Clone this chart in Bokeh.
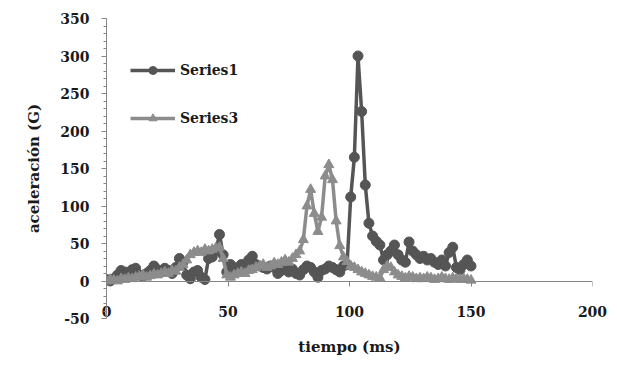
from bokeh.plotting import figure
from bokeh.models import Range1d, SingleIntervalTicker, FixedTicker, Legend, LegendItem, LinearAxis
from bokeh.embed import file_html
from bokeh.resources import INLINE

# time (ms)
t_ms = [0, 1.5, 3, 4.5, 6, 7.5, 9, 10.5, 12, 13.5,
        15, 16.5, 18, 19.5, 21, 22.5, 24, 25.5, 27, 28.5,
        30, 31.5, 33, 34.5, 36, 37.5, 39, 40.5, 42, 43.5,
        45, 46.5, 48, 49.5, 51, 52.5, 54, 55.5, 57, 58.5,
        60, 61.5, 63, 64.5, 66, 67.5, 69, 70.5, 72, 73.5,
        75, 76.5, 78, 79.5, 81, 82.5, 84, 85.5, 87, 88.5,
        90, 91.5, 93, 94.5, 96, 97.5, 99, 100.5, 102, 103.5,
        105, 106.5, 108, 109.5, 111, 112.5, 114, 115.5, 117, 118.5,
        120, 121.5, 123, 124.5, 126, 127.5, 129, 130.5, 132, 133.5,
        135, 136.5, 138, 139.5, 141, 142.5, 144, 145.5, 147, 148.5,
        150]

series1 = [2, 0, 3, 8, 14, 12, 10, 15, 17, 8,
           6, 10, 14, 20, 15, 12, 17, 14, 10, 18,
           30, 25, 8, 3, 12, 14, 5, 2, 30, 32,
           40, 62, 35, 12, 22, 15, 18, 22, 20, 28,
           33, 22, 20, 18, 16, 20, 18, 10, 14, 18,
           12, 16, 10, 8, 15, 20, 18, 12, 5, 14,
           16, 20, 18, 15, 12, 20, 22, 112, 165, 300,
           226, 128, 77, 60, 53, 48, 28, 35, 40, 48,
           35, 28, 25, 52, 40, 35, 30, 33, 28, 30,
           25, 22, 28, 20, 38, 45, 18, 15, 22, 28,
           20]

series3 = [0, 2, 1, 0, 3, 2, 4, 3, 5, 6,
           8, 5, 7, 9, 8, 10, 12, 10, 14, 13,
           18, 22, 28, 35, 38, 40, 38, 42, 40, 42,
           44, 45, 30, 8, 5, 8, 10, 12, 10, 14,
           15, 18, 20, 22, 18, 20, 24, 22, 25, 28,
           25, 30, 35, 40, 55, 100, 122, 90, 66, 85,
           140, 155, 135, 80, 47, 32, 26, 20, 18, 15,
           12, 10, 8, 6, 5, 4, 15, 20, 18, 12,
           8, 6, 4, 6, 5, 3, 4, 3, 5, 4,
           2, 3, 5, 3, 2, 4, 3, 2, 3, 2,
           1]

x_ticks = [0, 50, 100, 150, 200]
names = ["Series1", "Series3"]

FONT = "DejaVu Serif"
C1 = "#555555"
C3 = "#8c8c8c"
AX = "#868686"
TXT = "#1a1a1a"

p = figure(width=609, height=358, output_backend="svg", toolbar_location=None,
           x_range=Range1d(0, 200), y_range=Range1d(-50, 350),
           min_border_left=106, min_border_right=17, min_border_top=18,
           min_border_bottom=40, x_axis_location=None, y_axis_location="left")
p.outline_line_color = None
p.xgrid.visible = False
p.ygrid.visible = False
p.background_fill_color = "white"

r1l = p.line(t_ms, series1, line_color=C1, line_width=3.5)
r1m = p.scatter(t_ms, series1, marker="circle", size=10, fill_color=C1, line_color=C1)
r3l = p.line(t_ms, series3, line_color=C3, line_width=3.5)
r3m = p.scatter(t_ms, series3, marker="triangle", size=10, fill_color=C3, line_color=C3)

# y axis
ya = p.yaxis[0]
ya.ticker = SingleIntervalTicker(interval=50, num_minor_ticks=5)
ya.major_label_overrides = {-50: "-50"}
ya.axis_line_color = AX
ya.major_tick_line_color = AX
ya.minor_tick_line_color = AX
ya.major_tick_out = 5
ya.major_tick_in = 0
ya.minor_tick_out = 3
ya.minor_tick_in = 0
ya.major_label_standoff = 12
ya.major_label_text_font = FONT
ya.major_label_text_font_style = "bold"
ya.major_label_text_font_size = "14px"
ya.major_label_text_color = TXT
ya.axis_label = "aceleración (G)"
ya.axis_label_text_font = FONT
ya.axis_label_text_font_style = "bold"
ya.axis_label_text_font_size = "15px"
ya.axis_label_text_color = TXT
ya.axis_label_standoff = 14

# x axis line and ticks, crossing at y = 0 (no labels)
xz = LinearAxis(fixed_location=0, ticker=FixedTicker(ticks=x_ticks))
xz.axis_line_color = AX
xz.major_tick_line_color = AX
xz.minor_tick_line_color = None
xz.major_tick_out = 5
xz.major_tick_in = 0
xz.major_label_text_font_size = "0px"
xz.major_label_text_alpha = 0
p.add_layout(xz, "below")

# x labels and title at the bottom of the plot area
xb = LinearAxis(ticker=FixedTicker(ticks=x_ticks))
xb.axis_line_color = None
xb.major_tick_line_color = None
xb.minor_tick_line_color = None
xb.major_tick_out = 0
xb.major_tick_in = 0
xb.major_label_standoff = -13
xb.major_label_text_font = FONT
xb.major_label_text_font_style = "bold"
xb.major_label_text_font_size = "14px"
xb.major_label_text_color = TXT
xb.axis_label = "tiempo (ms)"
xb.axis_label_text_font = FONT
xb.axis_label_text_font_style = "bold"
xb.axis_label_text_font_size = "15px"
xb.axis_label_text_color = TXT
xb.axis_label_standoff = 18
p.add_layout(xb, "below")

legend = Legend(items=[LegendItem(label=names[0], renderers=[r1l, r1m]),
                       LegendItem(label=names[1], renderers=[r3l, r3m])],
                location=(24, 190))
legend.border_line_color = None
legend.background_fill_alpha = 0
legend.padding = 0
legend.margin = 0
legend.spacing = 28
legend.glyph_width = 45
legend.glyph_height = 20
legend.label_standoff = 5
legend.label_text_font = FONT
legend.label_text_font_style = "bold"
legend.label_text_font_size = "14px"
legend.label_text_color = TXT
p.add_layout(legend, "center")

open("out.html", "w").write(file_html(p, INLINE))
